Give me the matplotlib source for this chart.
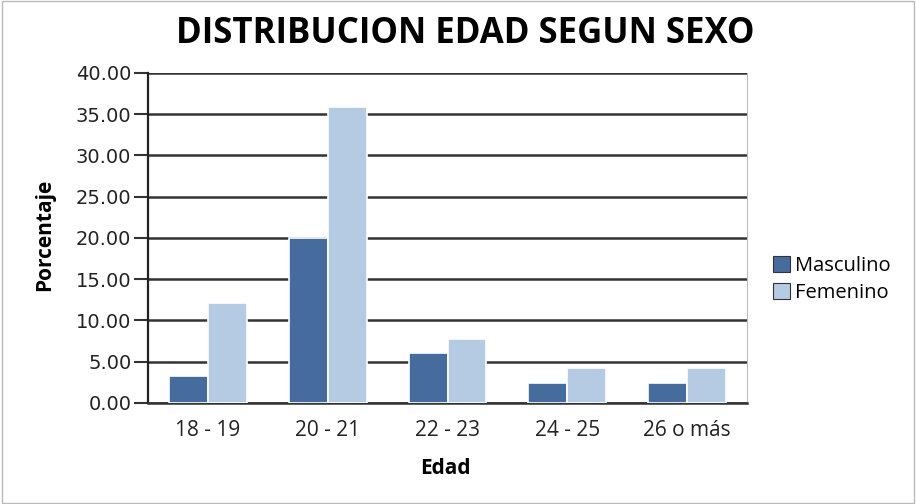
import numpy as np
import matplotlib
matplotlib.use('Agg')
import matplotlib.pyplot as plt
from matplotlib.patches import Rectangle

plt.rcParams['font.family'] = ['Open Sans', 'DejaVu Sans']

edades = ['18 - 19', '20 - 21', '22 - 23', '24 - 25', '26 o más']
masculino = [3.33, 20.0, 6.06, 2.47, 2.47]
femenino = [12.12, 35.9, 7.78, 4.2, 4.2]

fig = plt.figure(figsize=(9.16, 5.04), dpi=100)
ax = fig.add_axes([0.1616, 0.2004, 0.654, 0.655])

x = np.arange(len(edades))
w = 0.325
ax.bar(x - w / 2, masculino, w, color='#466C9E', edgecolor='white', linewidth=1.2,
       label='Masculino', zorder=3)
ax.bar(x + w / 2, femenino, w, color='#B5CAE3', edgecolor='white', linewidth=1.2,
       label='Femenino', zorder=3)

ax.set_xlim(-0.5, len(edades) - 0.5)
ax.set_ylim(0, 40)
yt = np.arange(0, 41, 5)
ax.set_yticks(yt)
ax.set_yticklabels([f'{v:.2f}' for v in yt], fontsize=14, color='#222222',
                   family='DejaVu Sans')
ax.set_xticks(x)
ax.set_xticklabels(edades, fontsize=15, color='#222222')
ax.tick_params(axis='y', length=10, width=1.5, color='#333333', pad=2)
ax.tick_params(axis='x', length=0, pad=12)
ax.yaxis.grid(True, color='#333333', linewidth=1.8, zorder=1)

ax.spines['top'].set_visible(False)
ax.spines['right'].set_color('#bbbbbb')
ax.spines['left'].set_color('#222222')
ax.spines['left'].set_linewidth(1.6)
ax.spines['bottom'].set_color('#333333')
ax.spines['bottom'].set_linewidth(1.8)

ax.set_ylabel('Porcentaje', fontsize=15, fontweight='bold')
ax.yaxis.set_label_coords(-0.155, 0.51)
ax.set_xlabel('Edad', fontsize=15, fontweight='bold')
ax.xaxis.set_label_coords(0.496, -0.168)
fig.text(0.508, 0.933, 'DISTRIBUCION EDAD SEGUN SEXO', ha='center', va='center',
         fontsize=25, fontweight='bold')

ax.legend(loc='center left', bbox_to_anchor=(1.043, 0.375), frameon=False, fontsize=14.5,
          handlelength=0.85, handleheight=0.85, handletextpad=0.25, labelspacing=0.35,
          borderpad=0, borderaxespad=0)
for h in ax.get_legend().legend_handles:
    h.set_edgecolor('#333333')
    h.set_linewidth(0.8)

fig.patches.append(Rectangle((0.002, 0.002), 0.996, 0.996, transform=fig.transFigure,
                             fill=False, edgecolor='#bbbbbb', linewidth=1))

fig.savefig('out.png', dpi=100)
